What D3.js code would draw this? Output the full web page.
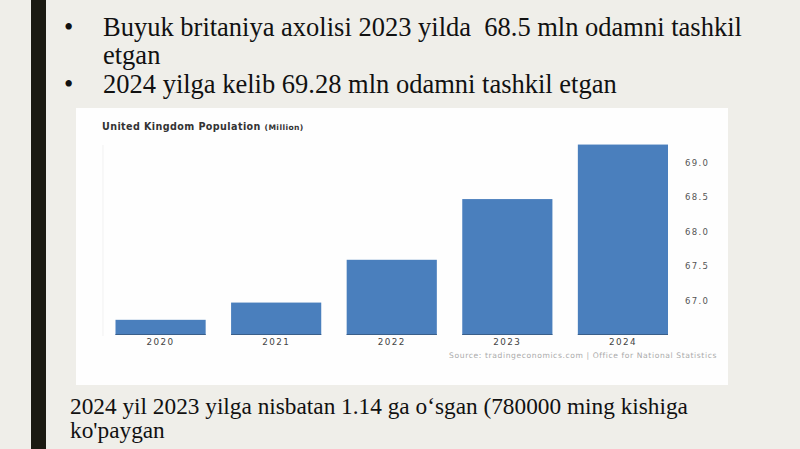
<!DOCTYPE html>
<html>
<head>
<meta charset="utf-8">
<script src="https://cdn.jsdelivr.net/npm/d3@7"></script>
<style>
  html, body { margin: 0; padding: 0; background: #efeee9; }
  svg { display: block; }
</style>
</head>
<body>
<svg id="slide" width="800" height="449"></svg>
<script>
// chart data
var years = ["2020", "2021", "2022", "2023", "2024"];
var population = [66.72, 66.97, 67.59, 68.47, 69.26];
var yTicks = [67.0, 67.5, 68.0, 68.5, 69.0];

// slide texts
var bullets = [
	["Buyuk britaniya axolisi 2023 yilda  68.5 mln odamni tashkil", "etgan"],
	["2024 yilga kelib 69.28 mln odamni tashkil etgan"]
];
var footLines = ["2024 yil 2023 yilga nisbatan 1.14 ga o\u2018sgan (780000 ming kishiga", "ko'paygan"];

var svg = d3.select("#slide");
var serif = "'Liberation Serif', 'Times New Roman', serif";
var sans = "'DejaVu Sans', Verdana, sans-serif";

// 1. Slide background and left bar
svg.append("rect").attr("width", 800).attr("height", 449).attr("fill", "#efeee9");
svg.append("rect").attr("x", 31).attr("y", 0).attr("width", 15).attr("height", 449).attr("fill", "#1b1a12");

// 2. Bullet list
var lineY = 36;
bullets.forEach(function(lines, i) {
	svg.append("text")
		.attr("x", 64).attr("y", lineY)
		.attr("font-family", serif).attr("font-size", 26.5).attr("fill", "#111")
		.text("\u2022");
	lines.forEach(function(line) {
		svg.append("text")
			.attr("x", 103).attr("y", lineY)
			.attr("font-family", serif).attr("font-size", 26.5).attr("fill", "#111")
			.attr("xml:space", "preserve")
			.text(line);
		lineY += 27.5;
	});
	lineY += 1.5;
});

// 3. Chart image box
var box = svg.append("g");
box.append("rect")
	.attr("x", 76).attr("y", 108).attr("width", 652).attr("height", 277)
	.attr("fill", "#fefefe");

var title = box.append("text")
	.attr("x", 102).attr("y", 130)
	.attr("font-family", sans).attr("font-weight", "bold").attr("fill", "#333")
	.attr("font-size", 9.6).attr("letter-spacing", 0.4);
title.append("tspan").text("United Kingdom Population ");
title.append("tspan").attr("font-size", 7.6).text("(Million)");

box.append("line")
	.attr("x1", 103).attr("x2", 103).attr("y1", 145).attr("y2", 336)
	.attr("stroke", "#f1f1f1");

var x = d3.scaleBand()
	.domain(years)
	.range([115.5, 668])
	.paddingInner(0.22)
	.paddingOuter(0);

var y = d3.scaleLinear()
	.domain([66.5, 69.0])
	.range([335, 162.5]);

// 4. Bars
box.selectAll("rect.bar")
	.data(population)
	.enter()
	.append("rect")
	.attr("class", "bar")
	.attr("x", function(d, i) { return x(years[i]); })
	.attr("y", function(d) { return y(d); })
	.attr("width", x.bandwidth())
	.attr("height", function(d) { return y(66.5) - y(d); })
	.attr("fill", "#4a7fbd");

box.selectAll("line.edge")
	.data(population)
	.enter()
	.append("line")
	.attr("class", "edge")
	.attr("x1", function(d, i) { return x(years[i]); })
	.attr("x2", function(d, i) { return x(years[i]) + x.bandwidth(); })
	.attr("y1", y(66.5) - 0.5).attr("y2", y(66.5) - 0.5)
	.attr("stroke", "#3a5f8a").attr("stroke-width", 1);

// 5. Axes
var xAxis = box.append("g")
	.attr("transform", "translate(0," + y(66.5) + ")")
	.call(d3.axisBottom(x).tickSize(0).tickPadding(4));
xAxis.select(".domain").remove();
xAxis.selectAll("text")
	.attr("font-family", sans).attr("font-size", 8.8).attr("fill", "#444")
	.attr("letter-spacing", 1.4);

var yAxis = box.append("g")
	.attr("transform", "translate(685,0)")
	.call(d3.axisRight(y).tickValues(yTicks).tickSize(0).tickPadding(0).tickFormat(d3.format(".1f")));
yAxis.select(".domain").remove();
yAxis.selectAll("text")
	.attr("font-family", sans).attr("font-size", 8.5).attr("fill", "#555")
	.attr("letter-spacing", 1.3);

box.append("text")
	.attr("x", 717).attr("y", 358)
	.attr("text-anchor", "end")
	.attr("font-family", sans).attr("font-size", 7.6).attr("fill", "#aaa")
	.attr("letter-spacing", 0.6)
	.text("Source: tradingeconomics.com | Office for National Statistics");

// 6. Footer text
footLines.forEach(function(line, i) {
	svg.append("text")
		.attr("x", 70).attr("y", 414 + i * 24)
		.attr("font-family", serif).attr("font-size", 23.3).attr("fill", "#111")
		.text(line);
});
</script>
</body>
</html>
